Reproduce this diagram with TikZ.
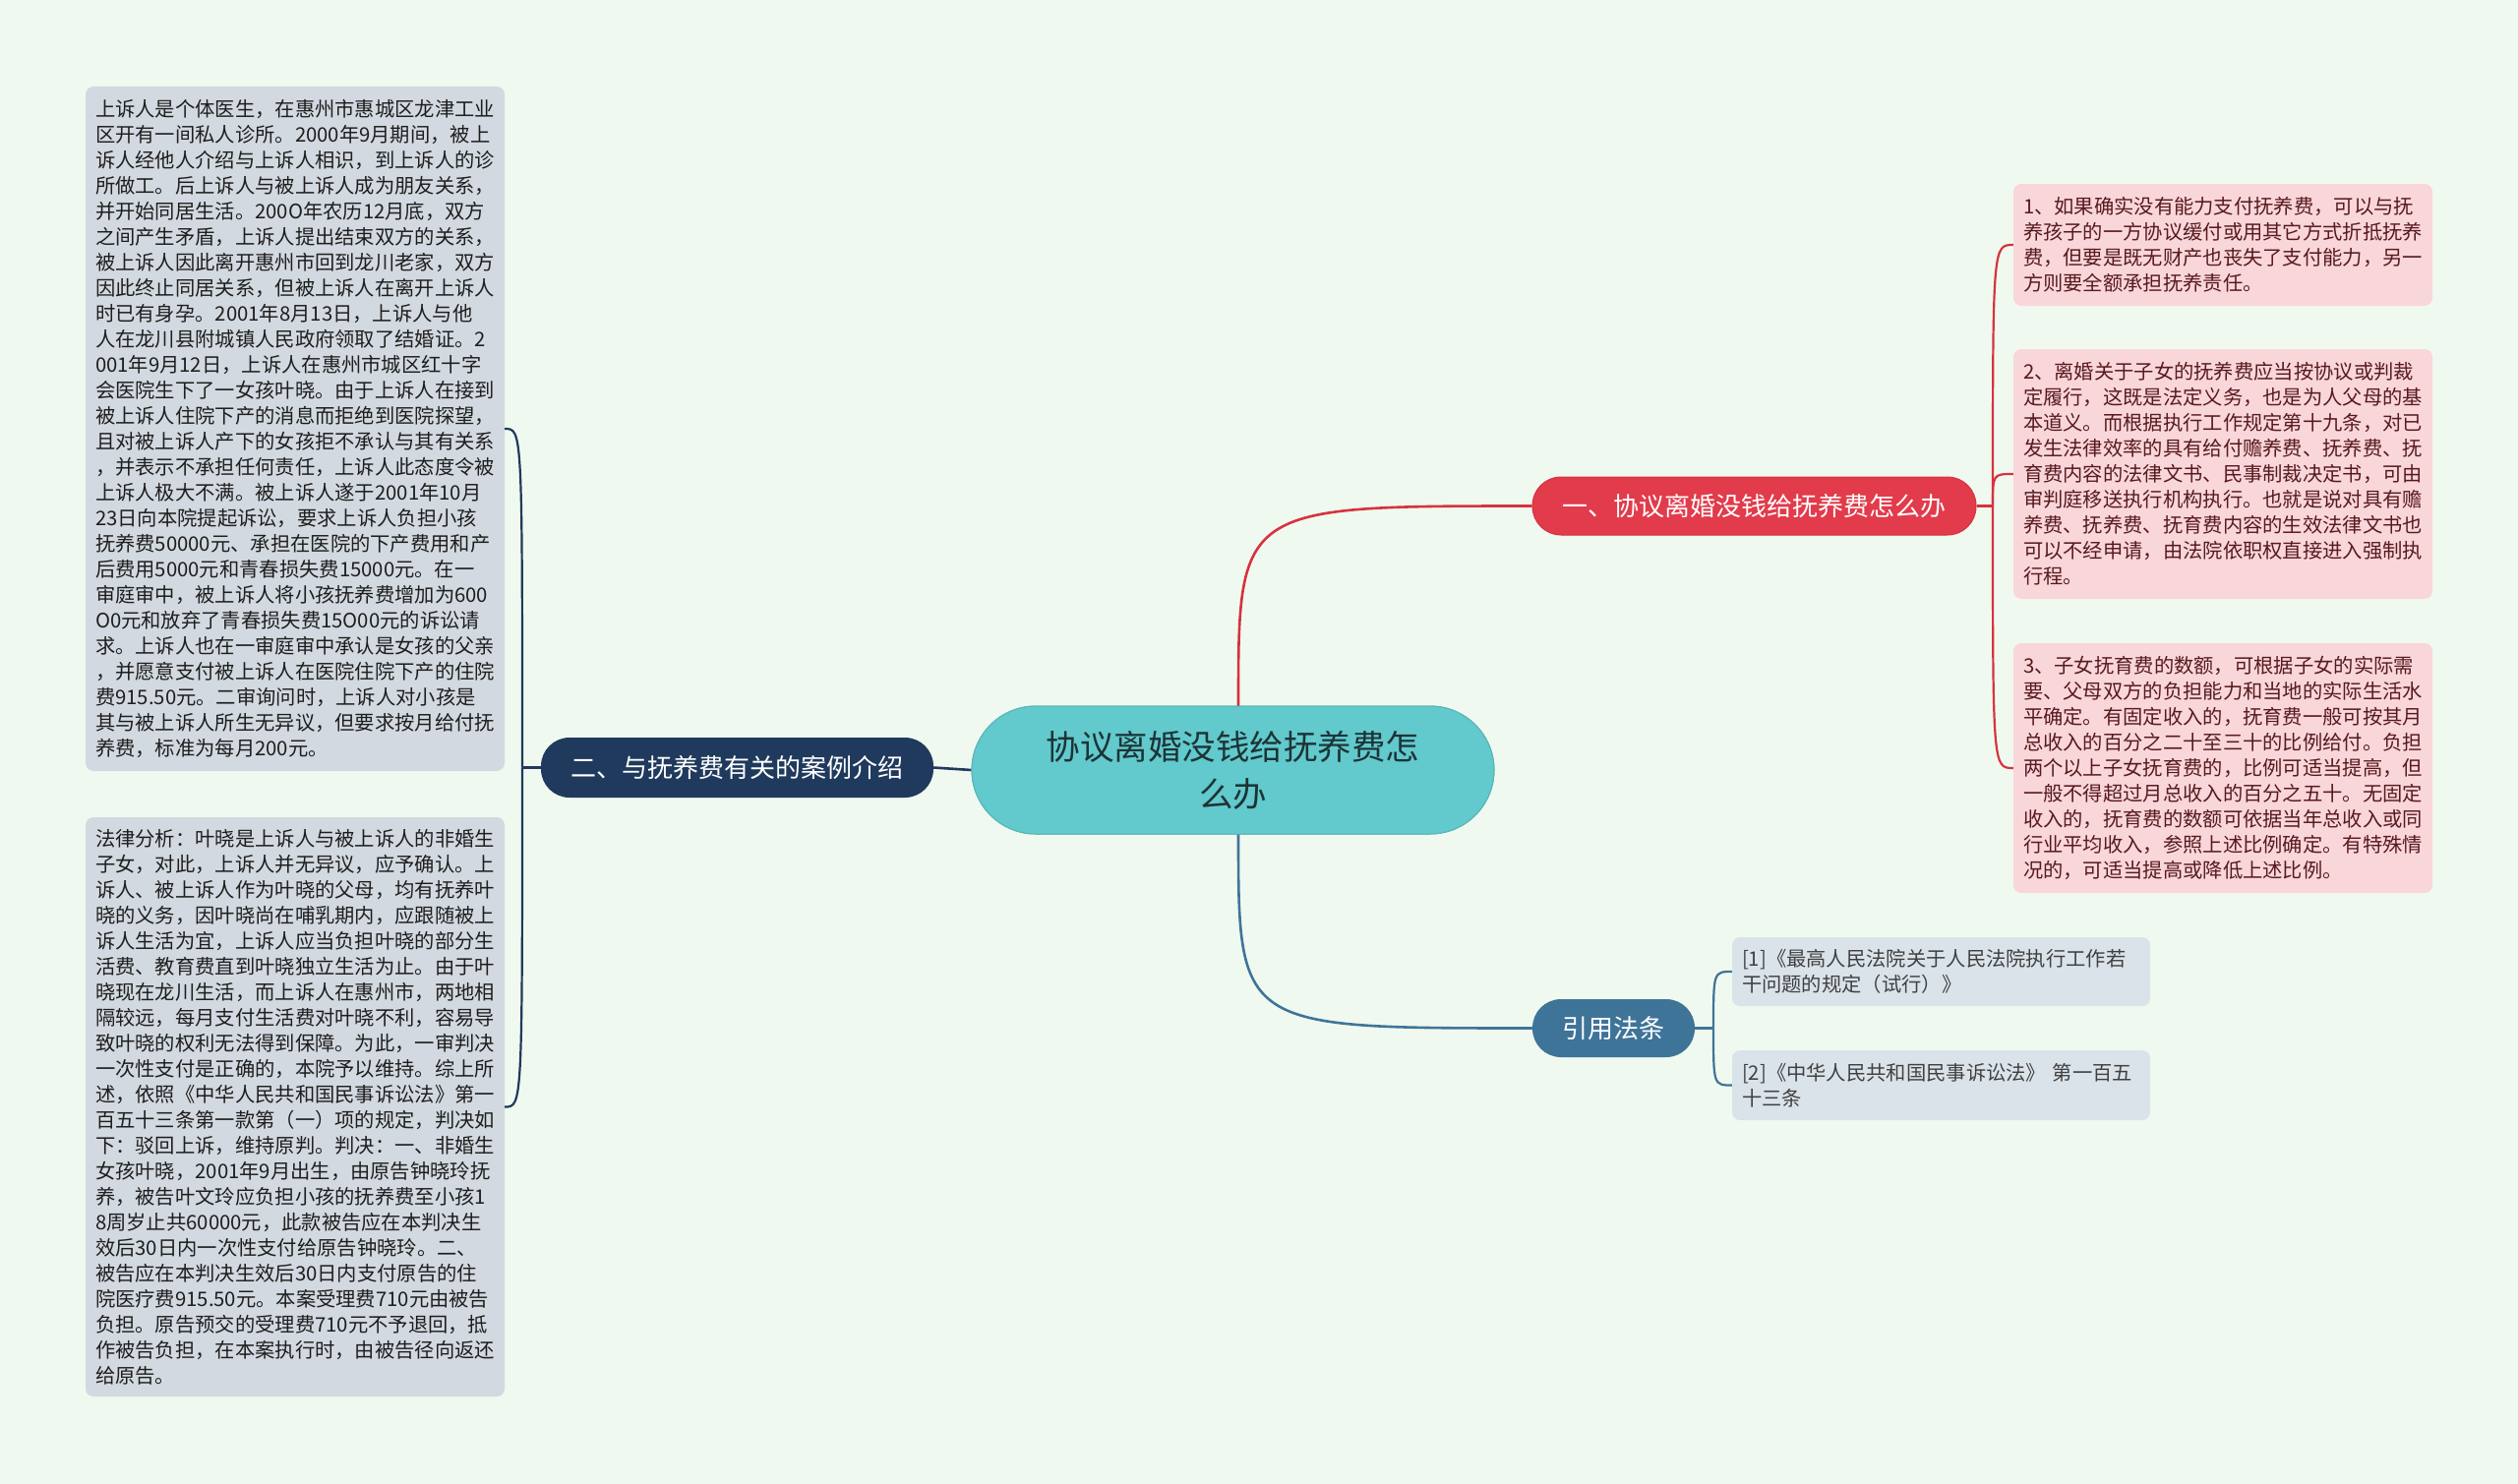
\documentclass[tikz,border=0pt]{standalone}
\usepackage{fontspec}
\setmainfont{Noto Sans CJK SC}
\definecolor{bgc}{HTML}{F0F9EF}
\definecolor{centerfill}{HTML}{62C9CD}
\definecolor{centertext}{HTML}{1C3436}
\definecolor{redb}{HTML}{E23B4B}
\definecolor{redline}{HTML}{D5333F}
\definecolor{navyb}{HTML}{1F3A5C}
\definecolor{blueb}{HTML}{3F7499}
\definecolor{pinkleaf}{HTML}{F9D6DA}
\definecolor{pinktext}{HTML}{571A1E}
\definecolor{greyleaf}{HTML}{D3D9E0}
\definecolor{refleaf}{HTML}{DAE3EA}
\definecolor{darktext}{HTML}{1E1E1E}
\begin{document}
\begin{tikzpicture}[x=1pt,y=-1pt,
  centerbox/.style={draw=centerfill!90!black, line width=1pt, fill=centerfill, rounded corners=65pt,
    minimum width=531pt, minimum height=130pt, inner sep=0pt, align=center, text=centertext,
    font={\fontsize{34.5pt}{48pt}\selectfont}},
  branchbox/.style={rounded corners=29pt, inner sep=0pt, text=white, minimum height=59pt,
    font={\fontsize{26pt}{30pt}\selectfont}},
  leafbox/.style={rounded corners=8pt, inner xsep=10pt, inner ysep=0pt, align=left, text width=406pt,
    font={\fontsize{20.3pt}{26pt}\selectfont}},
  redleaf/.style={leafbox, fill=pinkleaf, text=pinktext},
  greyleafbox/.style={leafbox, fill=greyleaf, text=darktext},
  refbox/.style={leafbox, fill=refleaf, text=darktext!85, text width=405pt},
  redconn/.style={draw=redline, line width=2.6pt},
  navyconn/.style={draw=navyb, line width=2.6pt},
  blueconn/.style={draw=blueb, line width=2.6pt},
  redleafconn/.style={draw=redline, line width=2.2pt},
  navyleafconn/.style={draw=navyb, line width=2.2pt},
  blueleafconn/.style={draw=blueb, line width=2.2pt}
]
\fill[bgc] (0,0) rectangle (2560,1509);
\useasboundingbox (0,0) rectangle (2560,1509);

% center
\node[centerbox] (c) at (1253.5,783) {协议离婚没钱给抚养费怎\\么办};

% branches
\node[branchbox, fill=redb, draw=redline, line width=1pt, minimum width=451pt] (b1) at (1783.5,514.5) {一、协议离婚没钱给抚养费怎么办};
\node[branchbox, fill=navyb, minimum width=399pt, minimum height=61pt] (b2) at (749.5,780.5) {二、与抚养费有关的案例介绍};
\node[branchbox, fill=blueb, minimum width=165pt] (b3) at (1640.5,1045.5) {引用法条};

% right leaves
\node[redleaf, minimum height=124pt] (r1) at (2260,249) {1、如果确实没有能力支付抚养费，可以与抚\\养孩子的一方协议缓付或用其它方式折抵抚养\\费，但要是既无财产也丧失了支付能力，另一\\方则要全额承担抚养责任。};
\node[redleaf, minimum height=254pt] (r2) at (2260,482) {2、离婚关于子女的抚养费应当按协议或判裁\\定履行，这既是法定义务，也是为人父母的基\\本道义。而根据执行工作规定第十九条，对已\\发生法律效率的具有给付赡养费、抚养费、抚\\育费内容的法律文书、民事制裁决定书，可由\\审判庭移送执行机构执行。也就是说对具有赡\\养费、抚养费、抚育费内容的生效法律文书也\\可以不经申请，由法院依职权直接进入强制执\\行程。};
\node[redleaf, minimum height=254pt] (r3) at (2260,781) {3、子女抚育费的数额，可根据子女的实际需\\要、父母双方的负担能力和当地的实际生活水\\平确定。有固定收入的，抚育费一般可按其月\\总收入的百分之二十至三十的比例给付。负担\\两个以上子女抚育费的，比例可适当提高，但\\一般不得超过月总收入的百分之五十。无固定\\收入的，抚育费的数额可依据当年总收入或同\\行业平均收入，参照上述比例确定。有特殊情\\况的，可适当提高或降低上述比例。};

% left leaves
\node[greyleafbox, minimum height=696pt] (l1) at (300,436) {上诉人是个体医生，在惠州市惠城区龙津工业\\区开有一间私人诊所。2000年9月期间，被上\\诉人经他人介绍与上诉人相识，到上诉人的诊\\所做工。后上诉人与被上诉人成为朋友关系，\\并开始同居生活。200O年农历12月底，双方\\之间产生矛盾，上诉人提出结束双方的关系，\\被上诉人因此离开惠州市回到龙川老家，双方\\因此终止同居关系，但被上诉人在离开上诉人\\时已有身孕。2001年8月13日，上诉人与他\\人在龙川县附城镇人民政府领取了结婚证。2\\001年9月12日，上诉人在惠州市城区红十字\\会医院生下了一女孩叶晓。由于上诉人在接到\\被上诉人住院下产的消息而拒绝到医院探望，\\且对被上诉人产下的女孩拒不承认与其有关系\\，并表示不承担任何责任，上诉人此态度令被\\上诉人极大不满。被上诉人遂于2001年10月\\23日向本院提起诉讼，要求上诉人负担小孩\\抚养费50000元、承担在医院的下产费用和产\\后费用5000元和青春损失费15000元。在一\\审庭审中，被上诉人将小孩抚养费增加为600\\O0元和放弃了青春损失费15O00元的诉讼请\\求。上诉人也在一审庭审中承认是女孩的父亲\\，并愿意支付被上诉人在医院住院下产的住院\\费915.50元。二审询问时，上诉人对小孩是\\其与被上诉人所生无异议，但要求按月给付抚\\养费，标准为每月200元。};
\node[greyleafbox, minimum height=589pt] (l2) at (300,1125.5) {法律分析：叶晓是上诉人与被上诉人的非婚生\\子女，对此，上诉人并无异议，应予确认。上\\诉人、被上诉人作为叶晓的父母，均有抚养叶\\晓的义务，因叶晓尚在哺乳期内，应跟随被上\\诉人生活为宜，上诉人应当负担叶晓的部分生\\活费、教育费直到叶晓独立生活为止。由于叶\\晓现在龙川生活，而上诉人在惠州市，两地相\\隔较远，每月支付生活费对叶晓不利，容易导\\致叶晓的权利无法得到保障。为此，一审判决\\一次性支付是正确的，本院予以维持。综上所\\述，依照《中华人民共和国民事诉讼法》第一\\百五十三条第一款第（一）项的规定，判决如\\下：驳回上诉，维持原判。判决：一、非婚生\\女孩叶晓，2001年9月出生，由原告钟晓玲抚\\养，被告叶文玲应负担小孩的抚养费至小孩1\\8周岁止共60000元，此款被告应在本判决生\\效后30日内一次性支付给原告钟晓玲。二、\\被告应在本判决生效后30日内支付原告的住\\院医疗费915.50元。本案受理费710元由被告\\负担。原告预交的受理费710元不予退回，抵\\作被告负担，在本案执行时，由被告径向返还\\给原告。};

% reference leaves
\node[refbox, minimum height=70pt] (f1) at (1973.5,988) {[1]《最高人民法院关于人民法院执行工作若\\干问题的规定（试行）》};
\node[refbox, minimum height=71pt] (f2) at (1973.5,1103.5) {[2]《中华人民共和国民事诉讼法》 第一百五\\十三条};

% junctions
\coordinate (j1) at (2026,514.5);
\coordinate (j2) at (531,780.5);
\coordinate (j3) at (1742,1045.5);
\coordinate (ct) at (1259,718);
\coordinate (cb) at (1259,848);

% center connectors
\draw[redconn] (ct) .. controls (ct |- b1.west) .. (b1.west);
\draw[blueconn] (cb) .. controls (cb |- b3.west) .. (b3.west);
\draw[navyconn] (c.west) -- (b2.east);

% branch 1 leaves
\draw[redleafconn] (b1.east) -- (j1);
\draw[redleafconn] (j1) .. controls (j1 |- r1.west) .. (r1.west);
\draw[redleafconn] (j1) .. controls (j1 |- r2.west) .. (r2.west);
\draw[redleafconn] (j1) .. controls (j1 |- r3.west) .. (r3.west);

% branch 2 leaves
\draw[navyleafconn] (b2.west) -- (j2);
\draw[navyleafconn] (j2) .. controls (j2 |- l1.east) .. (l1.east);
\draw[navyleafconn] (j2) .. controls (j2 |- l2.east) .. (l2.east);

% branch 3 leaves
\draw[blueleafconn] (b3.east) -- (j3);
\draw[blueleafconn] (j3) .. controls (j3 |- f1.west) .. (f1.west);
\draw[blueleafconn] (j3) .. controls (j3 |- f2.west) .. (f2.west);

% redraw center on top
\node[centerbox] at (c) {协议离婚没钱给抚养费怎\\么办};
\end{tikzpicture}
\end{document}
